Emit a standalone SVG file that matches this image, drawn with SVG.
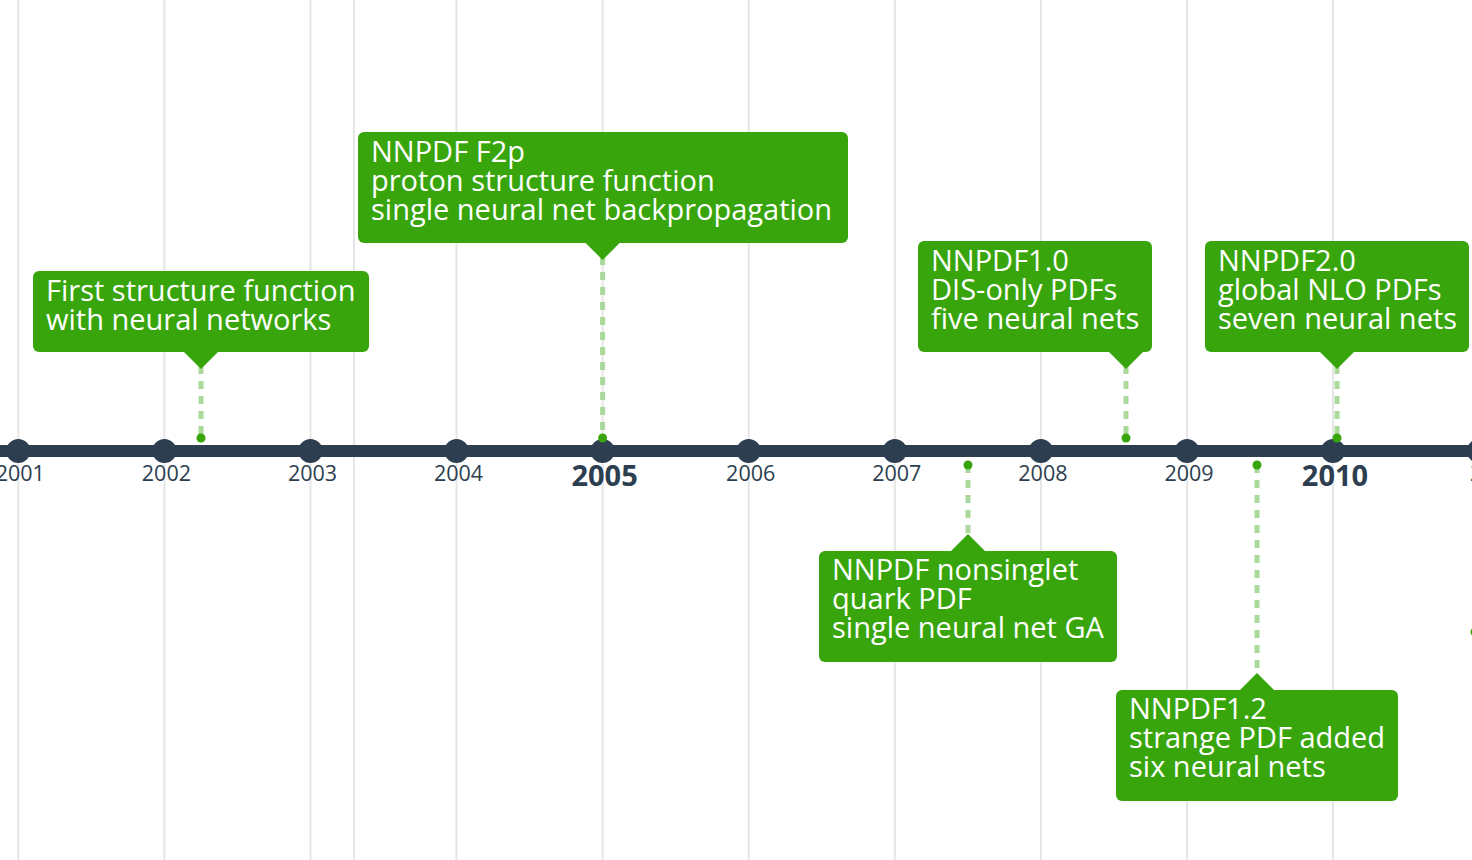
<svg xmlns="http://www.w3.org/2000/svg" width="1472" height="860" viewBox="0 0 1472 860">
<style>
.grid{stroke:#e6e6e6;stroke-width:2}
.axis{stroke:#2c3e50;stroke-width:12}
.tick{fill:#2c3e50}
.yl{font-family:"Open Sans","DejaVu Sans",sans-serif;font-size:21.5px;fill:#2c3e50;text-anchor:middle}
.yb{font-family:"Open Sans","DejaVu Sans",sans-serif;font-size:29px;font-weight:bold;fill:#2c3e50;text-anchor:middle}
.box{fill:#38a50c}
.bt{font-family:"Open Sans","DejaVu Sans",sans-serif;font-size:29px;fill:#ffffff}
.dash{stroke:#a9da9b;stroke-width:5;stroke-dasharray:8 7}
.dot{fill:#38a50c}
</style>
<rect width="1472" height="860" fill="#ffffff"/>
<g id="grid">
<line class="grid" x1="18.3" y1="0" x2="18.3" y2="860"/>
<line class="grid" x1="164.4" y1="0" x2="164.4" y2="860"/>
<line class="grid" x1="310.5" y1="0" x2="310.5" y2="860"/>
<line class="grid" x1="354" y1="0" x2="354" y2="860"/>
<line class="grid" x1="456.5" y1="0" x2="456.5" y2="860"/>
<line class="grid" x1="602.6" y1="0" x2="602.6" y2="860"/>
<line class="grid" x1="748.7" y1="0" x2="748.7" y2="860"/>
<line class="grid" x1="894.8" y1="0" x2="894.8" y2="860"/>
<line class="grid" x1="1040.9" y1="0" x2="1040.9" y2="860"/>
<line class="grid" x1="1187" y1="0" x2="1187" y2="860"/>
<line class="grid" x1="1333" y1="0" x2="1333" y2="860"/>
</g>
<g id="connectors">
<line class="dash" x1="201" y1="366" x2="201" y2="438"/>
<line class="dash" x1="602.6" y1="257" x2="602.6" y2="438"/>
<line class="dash" x1="1126" y1="366" x2="1126" y2="438"/>
<line class="dash" x1="1337" y1="366" x2="1337" y2="438"/>
<line class="dash" x1="968" y1="465" x2="968" y2="538"/>
<line class="dash" x1="1257" y1="465" x2="1257" y2="677"/>
</g>
<g id="axis">
<line class="axis" x1="0" y1="451" x2="1472" y2="451"/>
<circle class="tick" cx="18.3" cy="451" r="12"/>
<circle class="tick" cx="164.4" cy="451" r="12"/>
<circle class="tick" cx="310.5" cy="451" r="12"/>
<circle class="tick" cx="456.5" cy="451" r="12"/>
<circle class="tick" cx="602.6" cy="451" r="12"/>
<circle class="tick" cx="748.7" cy="451" r="12"/>
<circle class="tick" cx="894.8" cy="451" r="12"/>
<circle class="tick" cx="1040.9" cy="451" r="12"/>
<circle class="tick" cx="1187" cy="451" r="12"/>
<circle class="tick" cx="1333" cy="451" r="12"/>
<circle class="tick" cx="1479" cy="451" r="12"/>
<text class="yl" x="20.3" y="481">2001</text>
<text class="yl" x="166.4" y="481">2002</text>
<text class="yl" x="312.5" y="481">2003</text>
<text class="yl" x="458.5" y="481">2004</text>
<text class="yb" x="604.6" y="486">2005</text>
<text class="yl" x="750.7" y="481">2006</text>
<text class="yl" x="896.8" y="481">2007</text>
<text class="yl" x="1042.9" y="481">2008</text>
<text class="yl" x="1189" y="481">2009</text>
<text class="yb" x="1335" y="486">2010</text>
<text class="yl" x="1470" y="481" style="text-anchor:start">2011</text>
</g>
<g id="dots">
<circle class="dot" cx="201" cy="438" r="4.5"/>
<circle class="dot" cx="602.6" cy="438" r="4.5"/>
<circle class="dot" cx="1126" cy="438" r="4.5"/>
<circle class="dot" cx="1337" cy="438" r="4.5"/>
<circle class="dot" cx="968" cy="465" r="4.5"/>
<circle class="dot" cx="1257" cy="465" r="4.5"/>
<circle class="dot" cx="1475" cy="632" r="4.5"/>
</g>
<g id="event-2002">
<rect class="box" x="33" y="271" width="336" height="81" rx="6"/>
<polygon class="box" points="183,351 219,351 201,369"/>
<text class="bt" x="46" y="301">First structure function</text>
<text class="bt" x="46" y="330">with neural networks</text>
</g>
<g id="event-2005">
<rect class="box" x="358" y="132" width="490" height="111" rx="6"/>
<polygon class="box" points="584.6,242 620.6,242 602.6,260"/>
<text class="bt" x="371" y="162">NNPDF F2p</text>
<text class="bt" x="371" y="191">proton structure function</text>
<text class="bt" x="371" y="220">single neural net backpropagation</text>
</g>
<g id="event-nnpdf10">
<rect class="box" x="918" y="241" width="234" height="111" rx="6"/>
<polygon class="box" points="1108,351 1144,351 1126,369"/>
<text class="bt" x="931" y="271">NNPDF1.0</text>
<text class="bt" x="931" y="300">DIS-only PDFs</text>
<text class="bt" x="931" y="329">five neural nets</text>
</g>
<g id="event-nnpdf20">
<rect class="box" x="1205" y="241" width="264" height="111" rx="6"/>
<polygon class="box" points="1319,351 1355,351 1337,369"/>
<text class="bt" x="1218" y="271">NNPDF2.0</text>
<text class="bt" x="1218" y="300">global NLO PDFs</text>
<text class="bt" x="1218" y="329">seven neural nets</text>
</g>
<g id="event-nonsinglet">
<rect class="box" x="819" y="551" width="298" height="111" rx="6"/>
<polygon class="box" points="950,552 986,552 968,534"/>
<text class="bt" x="832" y="580">NNPDF nonsinglet</text>
<text class="bt" x="832" y="609">quark PDF</text>
<text class="bt" x="832" y="638">single neural net GA</text>
</g>
<g id="event-nnpdf12">
<rect class="box" x="1116" y="690" width="282" height="111" rx="6"/>
<polygon class="box" points="1239,691 1275,691 1257,673"/>
<text class="bt" x="1129" y="719">NNPDF1.2</text>
<text class="bt" x="1129" y="748">strange PDF added</text>
<text class="bt" x="1129" y="777">six neural nets</text>
</g>
</svg>
